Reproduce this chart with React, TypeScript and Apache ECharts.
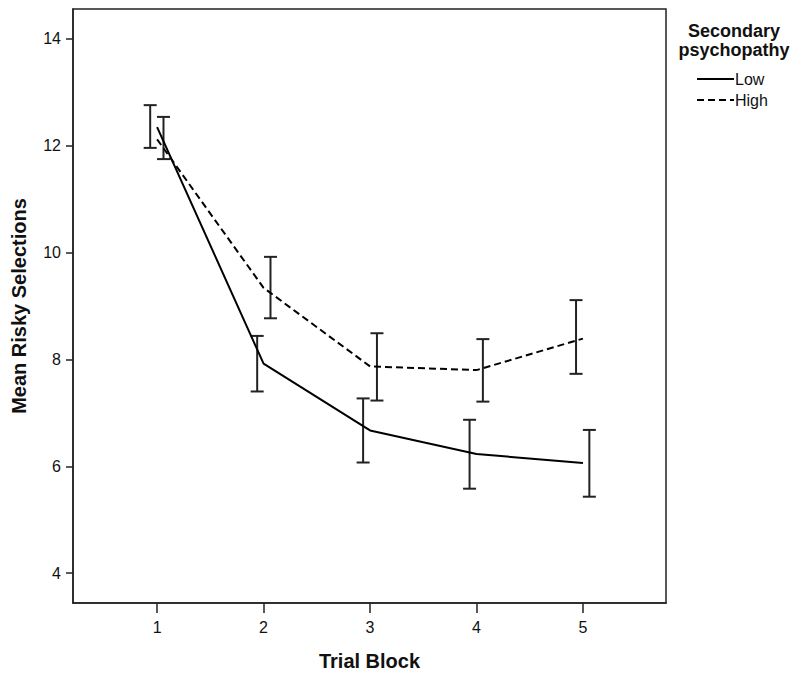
import React, { useEffect, useRef } from "react";
import * as echarts from "echarts";

const blocks = [1, 2, 3, 4, 5];
const lowMean = [12.35, 7.92, 6.67, 6.23, 6.06];
const lowLower = [11.96, 7.4, 6.07, 5.58, 5.43];
const lowUpper = [12.76, 8.44, 7.27, 6.87, 6.68];
const highMean = [12.12, 9.34, 7.87, 7.8, 8.39];
const highLower = [11.75, 8.77, 7.23, 7.21, 7.73];
const highUpper = [12.54, 9.92, 8.49, 8.38, 9.11];
const xTicks = [1, 2, 3, 4, 5];
const yTicks = [4, 6, 8, 10, 12, 14];

// horizontal jitter of the error bars (axis units), as in the original figure
const lowJitter = [-0.065, -0.06, -0.065, -0.065, 0.06];
const highJitter = [0.06, 0.065, 0.065, 0.06, -0.065];

const FONT = "Liberation Sans, Arial, sans-serif";

function errorSeries(name: string, jitter: number[], lower: number[], upper: number[]) {
  return {
    type: "custom",
    name: name + " CI",
    data: blocks.map((b, i) => [b + jitter[i], lower[i], upper[i]]),
    encode: { x: 0, y: [1, 2] },
    silent: true,
    renderItem: (params: any, api: any) => {
      const x = api.value(0);
      const lo = api.coord([x, api.value(1)]);
      const hi = api.coord([x, api.value(2)]);
      const hw = 6.5;
      const style = { stroke: "#222", lineWidth: 2 };
      return {
        type: "group",
        children: [
          { type: "line", shape: { x1: lo[0], y1: lo[1], x2: hi[0], y2: hi[1] }, style },
          { type: "line", shape: { x1: lo[0] - hw, y1: lo[1], x2: lo[0] + hw, y2: lo[1] }, style },
          { type: "line", shape: { x1: hi[0] - hw, y1: hi[1], x2: hi[0] + hw, y2: hi[1] }, style },
        ],
      };
    },
    z: 3,
  };
}

export default function App() {
  const ref = useRef<HTMLDivElement>(null);
  useEffect(() => {
    if (!ref.current) return;
    const chart = echarts.init(ref.current, undefined, { renderer: "svg" });
    chart.setOption({
      animation: false,
      backgroundColor: "#fff",
      grid: {
        left: 73,
        top: 9,
        width: 593,
        height: 594,
        show: true,
        borderColor: "#222",
        borderWidth: 1.5,
        backgroundColor: "transparent",
      },
      graphic: [
        {
          type: "text",
          x: 734,
          y: 31,
          style: {
            text: "Secondary",
            textAlign: "center",
            textVerticalAlign: "middle",
            font: "bold 18px " + FONT,
            fill: "#111",
          },
        },
        {
          type: "text",
          x: 734,
          y: 50,
          style: {
            text: "psychopathy",
            textAlign: "center",
            textVerticalAlign: "middle",
            font: "bold 18px " + FONT,
            fill: "#111",
          },
        },
      ],
      legend: {
        data: ["Low", "High"],
        orient: "vertical",
        left: 691,
        top: 66,
        itemWidth: 37,
        itemHeight: 14,
        itemGap: 5,
        itemStyle: { opacity: 0 },
        textStyle: { fontFamily: FONT, fontSize: 16, color: "#111", padding: [0, 0, 0, -4] },
      },
      xAxis: {
        type: "value",
        min: 0.21,
        max: 5.78,
        name: "Trial Block",
        nameLocation: "middle",
        nameGap: 48,
        nameTextStyle: { fontFamily: FONT, fontSize: 20, fontWeight: "bold", color: "#111" },
        axisLine: { show: true, lineStyle: { color: "#222", width: 1.5 } },
        axisTick: { show: true, length: 10, customValues: xTicks, lineStyle: { color: "#222", width: 1.5 } },
        axisLabel: { customValues: xTicks, margin: 16, fontFamily: FONT, fontSize: 16, color: "#111" },
        splitLine: { show: false },
      },
      yAxis: {
        type: "value",
        min: 3.44,
        max: 14.56,
        name: "Mean Risky Selections",
        nameLocation: "middle",
        nameGap: 44,
        nameTextStyle: { fontFamily: FONT, fontSize: 20, fontWeight: "bold", color: "#111" },
        axisLine: { show: true, lineStyle: { color: "#222", width: 1.5 } },
        axisTick: { show: true, length: 7, customValues: yTicks, lineStyle: { color: "#222", width: 1.5 } },
        axisLabel: { customValues: yTicks, margin: 12, fontFamily: FONT, fontSize: 16, color: "#111" },
        splitLine: { show: false },
      },
      series: [
        {
          type: "line",
          name: "Low",
          data: blocks.map((b, i) => [b, lowMean[i]]),
          symbol: "none",
          lineStyle: { color: "#000", width: 2, type: "solid" },
          itemStyle: { color: "#000" },
          z: 4,
        },
        {
          type: "line",
          name: "High",
          data: blocks.map((b, i) => [b, highMean[i]]),
          symbol: "none",
          lineStyle: { color: "#000", width: 2, type: [7, 4] },
          itemStyle: { color: "#000" },
          z: 4,
        },
        errorSeries("Low", lowJitter, lowLower, lowUpper),
        errorSeries("High", highJitter, highLower, highUpper),
      ],
    });
    return () => chart.dispose();
  }, []);
  return (
    <div
      ref={ref}
      style={{ position: "absolute", left: 0, top: 0, width: 800, height: 680 }}
    />
  );
}
